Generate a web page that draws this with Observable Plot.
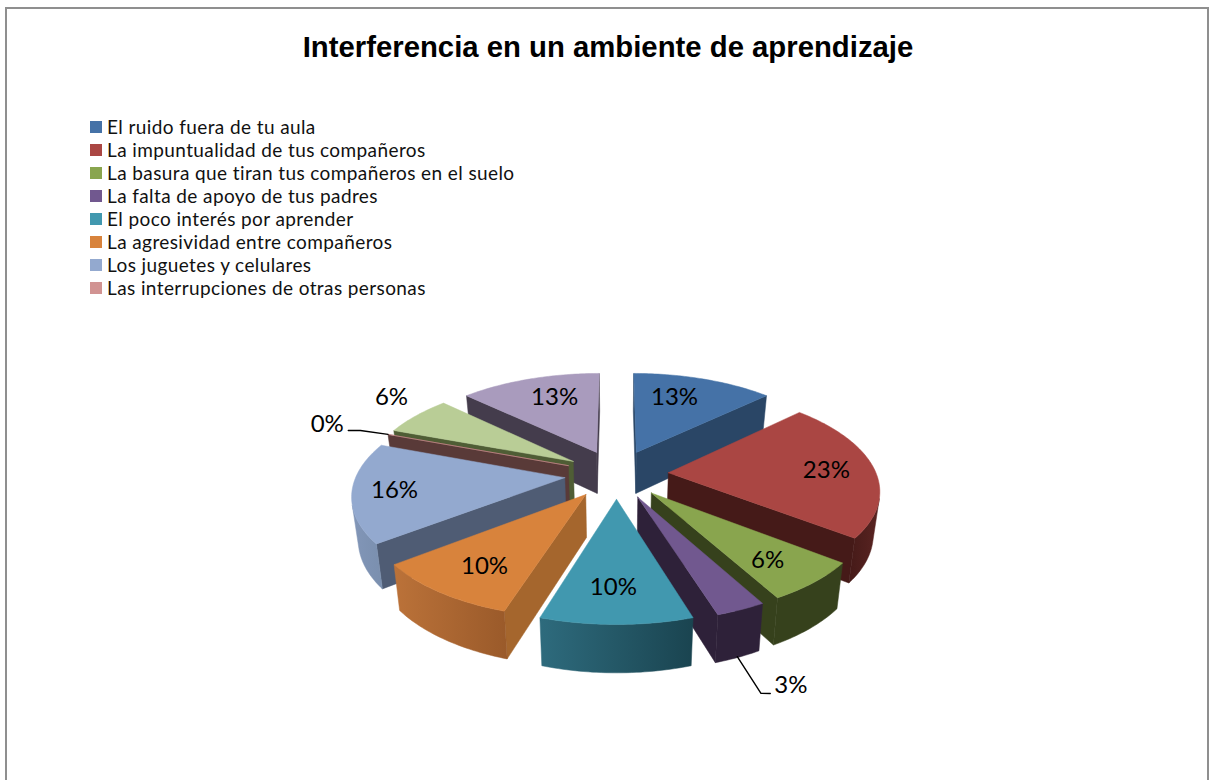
<!DOCTYPE html>
<html lang="es">
<head>
<meta charset="utf-8">
<script src="https://cdn.jsdelivr.net/npm/d3@7"></script>
<script src="https://cdn.jsdelivr.net/npm/@observablehq/plot@0.6"></script>
<style>
  html, body { margin: 0; padding: 0; background: #fff; width: 1214px; height: 780px; overflow: hidden; }
  #frame { position: absolute; left: 5px; top: 7px; width: 1204px; height: 900px; border: 2px solid #8f8f8f; box-sizing: border-box; }
  #title { position: absolute; left: 0; top: 30px; width: 1216px; text-align: center; font: bold 29.3px/34px "Liberation Sans", Arial, sans-serif; color: #000; }
  #legend { position: absolute; left: 90px; top: 115px; font: 19px/23px Lato, sans-serif; color: #111; letter-spacing: .4px; }
  #legend div { display: flex; align-items: center; height: 23px; white-space: nowrap; }
  #legend i { display: inline-block; width: 12px; height: 12px; margin-right: 5px; }
  #chart { position: absolute; left: 0; top: 300px; }
  #chart svg { display: block; background: transparent; }
</style>
</head>
<body>
<div id="frame"></div>
<div id="title">Interferencia en un ambiente de aprendizaje</div>
<div id="legend"></div>
<div id="chart"></div>
<script>
// ---- Data
// The legend names the first eight slices only; the last two slices are unnamed in the reference.
const categories = [
  "El ruido fuera de tu aula",
  "La impuntualidad de tus compañeros",
  "La basura que tiran tus compañeros en el suelo",
  "La falta de apoyo de tus padres",
  "El poco interés por aprender",
  "La agresividad entre compañeros",
  "Los juguetes y celulares",
  "Las interrupciones de otras personas"
];
const values = [12.9, 22.6, 6.45, 3.2, 9.7, 9.7, 16.1, 0, 6.45, 12.9];

// ---- Styles
const topColors   = ["#4572a7","#aa4643","#89a54e","#71588f","#4198af","#d8833c","#93a9cf","#d19392","#b9cd96","#a99bbd"];
const sideColors  = ["#2a4666","#451a18","#36411c","#2e2139","#1f4a57","#a5662d","#4f5c74","#593a38","#4f5d35","#443c4c"];
const outerStart  = ["#2a4666","#451a18","#36411c","#2e2139","#2e6b7d","#bb7239","#8296b8","#593a38","#4f5d35","#443c4c"];
const outerEnd    = ["#2a4666","#5a2422","#36411c","#2e2139","#1a4450","#9a5a2a","#7a8fae","#593a38","#4f5d35","#443c4c"];

// ---- Label layout, in polar terms around each exploded slice
const labelRadius = [0.70, 0.765, 0.76, 1.497, 0.74, 0.747, 0.803, 1.361, 1.273, 0.707];
const labelShift  = [-5, 1.2, 1.8, 2.5, 1, -1.6, -0.5, 0, 4.9, 3.4];
const leaders = [
  {slice: 3, pts: [[164, 1.277], [163.9, 1.504], [162.7, 1.514]]},
  {slice: 7, pts: [[290.34, 1.0], [289.9, 1.157], [288.9, 1.216]]}
];

// ---- Pie geometry (unit radius), exploded with a simple perspective
const explode = 0.25, D = 6.5, A = 632 / 208, taper = 0.025;
const rad = d => d * Math.PI / 180;
function project(X, Z, t = 0) {
  const s = D / (D - Z);
  return {x: X * s * (1 - taper * t), y: A * s + (0.0716 + 0.13 * s) * t};
}
const area = p => d3.sum(p, (q, i) => { const r = p[(i + 1) % p.length]; return q.x * r.y - r.x * q.y; });

const total = d3.sum(values);
let acc = 0;
const slices = values.map((v, i) => {
  const a0 = acc / total * 360; acc += v;
  const a1 = acc / total * 360, mid = (a0 + a1) / 2;
  const ox = explode * Math.sin(rad(mid)), oz = -explode * Math.cos(rad(mid));
  return {i, v, a0, a1, mid, ox, oz};
});
const rim = (sl, a) => [sl.ox + Math.sin(rad(a)), sl.oz - Math.cos(rad(a))];

const rows = [];
let faceId = 0;
function addFace(corners, color) {
  const id = faceId++;
  [...corners, corners[0]].forEach(p => rows.push({id, x: p.x, y: p.y, color}));
}
d3.sort(slices, s => -Math.cos(rad(s.mid))).forEach(sl => {
  const apex = [sl.ox, sl.oz];
  // straight cut walls: only the ones that face the viewer
  [[sl.a0, -1], [sl.a1, 1]].forEach(([a, sign]) => {
    const r = rim(sl, a);
    const quad = [project(...apex), project(...r), project(...r, 1), project(...apex, 1)];
    if (area(quad) * sign > 0) addFace(quad, sideColors[sl.i]);
  });
  // curved outer wall: the run of the rim that faces the viewer
  const steps = Math.max(1, Math.ceil(sl.a1 - sl.a0));
  const topEdge = [], bottomEdge = [];
  for (let k = 0; k < steps; k++) {
    const b0 = sl.a0 + (sl.a1 - sl.a0) * k / steps, b1 = sl.a0 + (sl.a1 - sl.a0) * (k + 1) / steps;
    const p0 = rim(sl, b0), p1 = rim(sl, b1);
    const quad = [project(...p0), project(...p1), project(...p1, 1), project(...p0, 1)];
    if (area(quad) < 0) {
      if (!topEdge.length) { topEdge.push(quad[0]); bottomEdge.push(quad[3]); }
      topEdge.push(quad[1]); bottomEdge.push(quad[2]);
    }
  }
  if (topEdge.length) addFace([...topEdge, ...bottomEdge.reverse()], `url(#outer${sl.i})`);
  const top = [project(...apex)];
  for (let k = 0; k <= steps; k++) top.push(project(...rim(sl, sl.a0 + (sl.a1 - sl.a0) * k / steps)));
  addFace(top, topColors[sl.i]);
});

const polar = (sl, theta, r) => project(sl.ox + r * Math.sin(rad(theta)), sl.oz - r * Math.cos(rad(theta)));
const labels = slices.map(sl => ({
  ...polar(sl, sl.mid + labelShift[sl.i], labelRadius[sl.i]),
  text: d3.format(".0f")(sl.v) + "%"
}));
const leaderRows = leaders.flatMap(l => l.pts.map(([t, r]) => ({id: l.slice, ...polar(slices[l.slice], t, r)})));

// left-to-right shading of the curved walls
const gradients = () => {
  const defs = d3.create("svg:defs");
  slices.forEach(sl => {
    const g = defs.append("linearGradient").attr("id", `outer${sl.i}`);
    g.append("stop").attr("offset", "0%").attr("stop-color", outerStart[sl.i]);
    g.append("stop").attr("offset", "100%").attr("stop-color", outerEnd[sl.i]);
  });
  return defs.node();
};

const R = 208, cx = 616, y0 = -158.5;
const chart = Plot.plot({
  width: 1214, height: 480,
  margin: 0,
  style: {background: "transparent"},
  x: {domain: [-cx / R, (1214 - cx) / R], range: [0, 1214], axis: null},
  y: {domain: [(300 - y0) / R, (780 - y0) / R], range: [0, 480], axis: null},
  color: {type: "identity"},
  marks: [
    gradients,
    Plot.line(rows, {x: "x", y: "y", z: "id", fill: "color", stroke: "color", strokeWidth: 0.5, strokeLinejoin: "round"}),
    Plot.line(leaderRows, {x: "x", y: "y", z: "id", stroke: "#000", strokeWidth: 1.4}),
    Plot.text(labels, {x: "x", y: "y", text: "text", fontSize: 24, fill: "#000", fontFamily: "Lato, sans-serif"})
  ]
});
document.getElementById("chart").appendChild(chart);

const legend = d3.select("#legend");
categories.forEach((name, i) => {
  const row = legend.append("div");
  row.append("i").style("background", topColors[i]);
  row.append("span").text(name);
});
</script>
</body>
</html>
